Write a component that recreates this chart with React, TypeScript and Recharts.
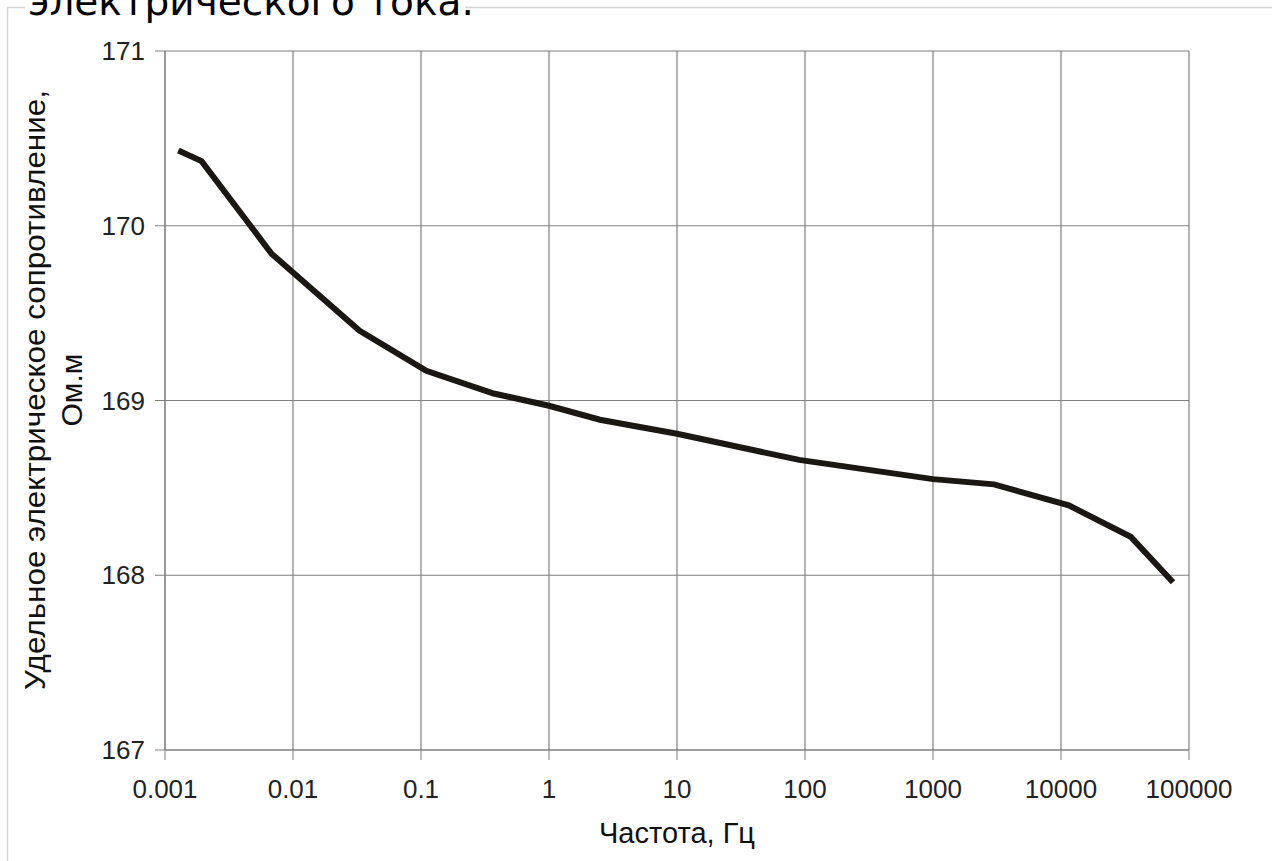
import { LineChart, Line, XAxis, YAxis, CartesianGrid, Label } from "recharts";

// frequency, Hz (log axis)
const freqHz = [0.00127, 0.00193, 0.0068, 0.013, 0.033, 0.11, 0.37, 1, 2.5, 10, 90, 1000, 3000, 11500, 35000, 75000];
// resistivity, Ohm*m
const resistivity = [170.43, 170.37, 169.84, 169.66, 169.4, 169.17, 169.04, 168.97, 168.89, 168.81, 168.66, 168.55, 168.52, 168.4, 168.22, 167.96];

const xTicks = [0.001, 0.01, 0.1, 1, 10, 100, 1000, 10000, 100000];
const yTicks = [167, 168, 169, 170, 171];

const data = freqHz.map((f, i) => ({ f, rho: resistivity[i] }));

const AXIS_FONT = "'Liberation Sans', Arial, sans-serif";
const GRID = "#808080";

const App = () => {
  return (
    <div style={{ position: "absolute", left: 0, top: 0, width: 1272, height: 861, background: "#fff" }}>
      <LineChart
        width={1272}
        height={861}
        data={data}
        margin={{ top: 51, right: 83, bottom: 51, left: 85 }}
      >
        <CartesianGrid stroke={GRID} strokeWidth={1.2} />
        <XAxis
          dataKey="f"
          type="number"
          scale="log"
          domain={[0.001, 100000]}
          ticks={xTicks}
          interval={0}
          allowDataOverflow
          height={60}
          tickSize={10}
          tickMargin={20}
          stroke={GRID}
          tick={{ fontSize: 26, fill: "#222", fontFamily: AXIS_FONT }}
        >
          <Label
            value="Частота, Гц"
            position="bottom"
            offset={12}
            style={{ fontSize: 29, fill: "#111", fontFamily: AXIS_FONT }}
          />
        </XAxis>
        <YAxis
          type="number"
          domain={[167, 171]}
          ticks={yTicks}
          interval={0}
          width={80}
          tickSize={10}
          tickMargin={10}
          stroke={GRID}
          tick={{ fontSize: 26, fill: "#222", fontFamily: AXIS_FONT }}
        />
        <Line
          type="linear"
          dataKey="rho"
          stroke="#1b1814"
          strokeWidth={6}
          dot={false}
          isAnimationActive={false}
        />
      </LineChart>
      <svg
        width={1272}
        height={861}
        style={{ position: "absolute", left: 0, top: 0, pointerEvents: "none" }}
      >
        <path d="M7.5 861 V7.5 H1272" fill="none" stroke="#d4d4d4" strokeWidth={1.5} />
        <rect x={25} y={0} width={440} height={26} fill="#fff" />
        <text x={28} y={15} fontSize={39} fontFamily="'DejaVu Sans', Verdana, sans-serif" fill="#000">
          электрического тока.
        </text>
        <g fontFamily={AXIS_FONT} fontSize={30} fill="#111" textAnchor="middle" dominantBaseline="central">
          <text
            x={34}
            y={390}
            transform="rotate(-90 34 390)"
            textLength={600}
            lengthAdjust="spacingAndGlyphs"
          >
            Удельное электрическое сопротивление,
          </text>
          <text x={71} y={390} transform="rotate(-90 71 390)">
            Ом.м
          </text>
        </g>
      </svg>
    </div>
  );
};

export default App;
